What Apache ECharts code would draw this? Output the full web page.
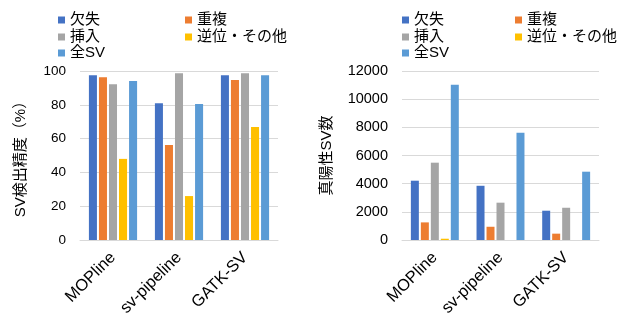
<!DOCTYPE html>
<html><head><meta charset="utf-8">
<script src="https://cdn.jsdelivr.net/npm/echarts@6/dist/echarts.min.js"></script>
<style>html,body{margin:0;padding:0;background:#fff}#c{width:625px;height:327px}</style>
</head><body><div id="c"></div>
<script>
var categories = ['MOPline', 'sv-pipeline', 'GATK-SV'];
var seriesNames = ['欠失', '重複', '挿入', '逆位・その他', '全SV'];
var colors = ['#4472C4', '#ED7D31', '#A5A5A5', '#FFC000', '#5B9BD5'];
// Left: SV detection accuracy (%)
var precDel = [97.5, 80.9, 97.5];
var precDup = [96.3, 56.2, 94.7];
var precIns = [92.1, 98.6, 98.6];
var precInv = [48, 26, 66.9];
var precAll = [94.1, 80.5, 97.5];
// Right: true positive SV counts
var tpDel = [4210, 3850, 2080];
var tpDup = [1250, 940, 450];
var tpIns = [5490, 2650, 2290];
var tpInv = [90, 0, 0];
var tpAll = [11020, 7620, 4850];
var leftTicks = [0, 100, 20];
var rightTicks = [0, 12000, 2000];

var FONT = '"Liberation Sans", Arial, "Noto Sans CJK JP", sans-serif';
var leftData = [precDel, precDup, precIns, precInv, precAll];
var rightData = [tpDel, tpDup, tpIns, tpInv, tpAll];

var series = [];
seriesNames.forEach(function (n, i) {
  series.push({ name: n, type: 'bar', xAxisIndex: 0, yAxisIndex: 0, data: leftData[i],
    itemStyle: { color: colors[i] }, barGap: '25%', barCategoryGap: '27%' });
});
seriesNames.forEach(function (n, i) {
  series.push({ name: n, type: 'bar', xAxisIndex: 1, yAxisIndex: 1, data: rightData[i],
    itemStyle: { color: colors[i] }, barGap: '25%', barCategoryGap: '27%' });
});

var legends = [];
var rowTops = [12, 29, 45];
function addLegends(col1, col2) {
  seriesNames.forEach(function (n, i) {
    legends.push({
      data: [n], left: (i % 2 === 0) ? col1 : col2, top: rowTops[Math.floor(i / 2)],
      padding: 0, icon: 'rect', itemWidth: 7, itemHeight: 7, selectedMode: false,
      textStyle: { fontFamily: FONT, fontSize: 15, color: '#000', lineHeight: 16 }
    });
  });
}
addLegends(58, 185);
addLegends(402, 515);

function xAx(gi) {
  return { type: 'category', gridIndex: gi, data: categories,
    axisLine: { lineStyle: { color: '#D9D9D9', width: 1 } }, axisTick: { show: false },
    axisLabel: { rotate: 45, fontFamily: FONT, fontSize: 16.5, color: '#000', margin: 15, interval: 0 } };
}
function yAx(gi, t, name, gap, fs) {
  return { type: 'value', gridIndex: gi, min: t[0], max: t[1], interval: t[2],
    name: name, nameLocation: 'middle', nameGap: gap,
    nameTextStyle: { fontFamily: FONT, fontSize: 15, color: '#000' },
    axisLine: { show: false }, axisTick: { show: false },
    axisLabel: { fontFamily: FONT, fontSize: fs, color: '#000', margin: 14,
      formatter: function (v) { return String(v); } },
    splitLine: { lineStyle: { color: '#D9D9D9', width: 1 } } };
}

var chart = echarts.init(document.getElementById('c'), null, { renderer: 'canvas' });
chart.setOption({
  animation: false,
  backgroundColor: '#fff',
  legend: legends,
  grid: [
    { left: 80, top: 71, width: 198, height: 169 },
    { left: 402, top: 71, width: 197, height: 169 }
  ],
  xAxis: [xAx(0), xAx(1)],
  yAxis: [yAx(0, leftTicks, 'SV検出精度（%）', 52, 13.5), yAx(1, rightTicks, '真陽性SV数', 68, 14.5)],
  series: series
});
</script></body></html>
